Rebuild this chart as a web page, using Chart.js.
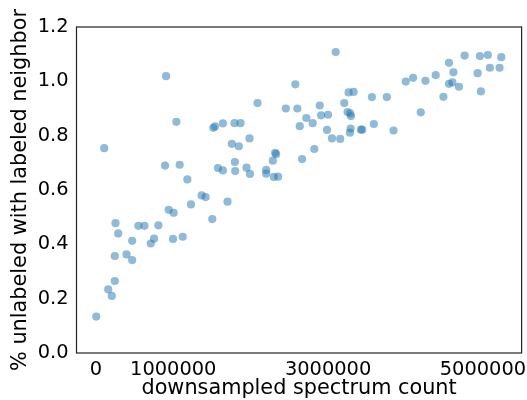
<!DOCTYPE html>
<html>
<head>
<meta charset="utf-8">
<script src="https://cdn.jsdelivr.net/npm/chart.js@4/dist/chart.umd.min.js"></script>
<style>
  html, body { margin: 0; padding: 0; background: #fff; }
  #wrap { width: 527px; height: 400px; }
</style>
</head>
<body>
<div id="wrap"><canvas id="c" width="527" height="400"></canvas></div>
<script>
// Spectrum counts (x) and fraction of unlabeled with labeled neighbor (y)
const spectrumCount = [
  907000, 108000, 1040000, 894000, 1083000, 1182000, 1366000, 1418000, 1229000, 941000,
  1005000, 1701000, 1504000, 254000, 289000, 550000, 628000, 808000, 469000, 752000,
  709000, 997000, 1122000, 245000, 396000, 469000, 245000, 160000, 206000, 5000,
  1517000, 1539000, 1641000, 1791000, 1869000, 1757000, 1847000, 1985000, 2088000, 1577000,
  1641000, 1796000, 1800000, 1946000, 1990000, 2200000, 2200000, 2316000, 2329000, 2286000,
  2299000, 2354000, 2577000, 2454000, 2603000, 2719000, 2634000, 2664000, 3098000, 2801000,
  2892000, 2909000, 2999000, 2822000, 2986000, 3050000, 3157000, 3209000, 3265000, 3330000,
  3252000, 3286000, 3295000, 3291000, 3282000, 3424000, 3441000, 3566000, 3591000, 3759000,
  3845000, 4004000, 4098000, 4197000, 4258000, 4390000, 4490000, 4562000, 4619000, 4562000,
  4606000, 4691000, 4764000, 4932000, 4974000, 4961000, 5064000, 5090000, 5215000, 5237000
];
const pctUnlabeled = [
  1.019, 0.754, 0.851, 0.690, 0.693, 0.639, 0.580, 0.574, 0.547, 0.527,
  0.516, 0.557, 0.493, 0.478, 0.440, 0.468, 0.468, 0.470, 0.413, 0.421,
  0.403, 0.420, 0.428, 0.357, 0.363, 0.342, 0.265, 0.234, 0.210, 0.134,
  0.829, 0.834, 0.845, 0.846, 0.846, 0.770, 0.761, 0.790, 0.920, 0.681,
  0.672, 0.703, 0.670, 0.682, 0.659, 0.674, 0.660, 0.737, 0.732, 0.708,
  0.648, 0.649, 0.989, 0.900, 0.900, 0.865, 0.835, 0.714, 1.108, 0.846,
  0.911, 0.875, 0.877, 0.751, 0.821, 0.790, 0.788, 0.920, 0.959, 0.961,
  0.887, 0.882, 0.872, 0.826, 0.811, 0.822, 0.822, 0.942, 0.843, 0.942,
  0.819, 0.999, 1.013, 0.886, 1.002, 1.023, 0.943, 1.068, 1.033, 0.991,
  0.996, 0.980, 1.095, 1.030, 0.963, 1.093, 1.097, 1.050, 1.050, 1.089
];
const xTickValues = [0, 1000000, 3000000, 5000000];
const yTickValues = [0.0, 0.2, 0.4, 0.6, 0.8, 1.0, 1.2];

const points = spectrumCount.map((x, i) => ({ x: x, y: pctUnlabeled[i] }));

const frame = {
  id: 'frame',
  afterDatasetsDraw(chart) {
    const { ctx, chartArea: a } = chart;
    ctx.save();
    ctx.strokeStyle = '#222';
    ctx.lineWidth = 1.2;
    ctx.strokeRect(a.left, a.top, a.right - a.left, a.bottom - a.top);
    ctx.restore();
  }
};

const tickFont = { family: 'DejaVu Sans', size: 19.4 };
const titleFont = { family: 'DejaVu Sans', size: 20.8 };

new Chart(document.getElementById('c'), {
  type: 'scatter',
  data: {
    datasets: [{
      data: points,
      backgroundColor: 'rgba(31,119,180,0.5)',
      borderWidth: 0,
      pointRadius: 4.1,
      pointHoverRadius: 4.1
    }]
  },
  options: {
    responsive: false,
    animation: false,
    devicePixelRatio: 1,
    layout: { padding: { top: 27, right: 4.7, left: 0, bottom: 0 } },
    plugins: { legend: { display: false }, tooltip: { enabled: false } },
    scales: {
      x: {
        type: 'linear',
        min: -250000,
        max: 5500000,
        afterBuildTicks: (s) => { s.ticks = xTickValues.map(v => ({ value: v })); },
        afterFit: (s) => { s.height = 47; },
        grid: { display: false, drawTicks: true, tickLength: 5, tickColor: '#222', tickWidth: 1.2 },
        border: { display: false },
        ticks: { color: '#000', font: tickFont, padding: 0.5, maxRotation: 0, autoSkip: false,
                 callback: (v) => String(v) },
        title: { display: true, text: 'downsampled spectrum count', color: '#000', font: titleFont,
                 padding: { top: 0, bottom: -1 } }
      },
      y: {
        type: 'linear',
        min: 0,
        max: 1.2,
        afterBuildTicks: (s) => { s.ticks = yTickValues.map(v => ({ value: v })); },
        afterFit: (s) => { s.width = 76.5; },
        grid: { display: false, drawTicks: true, tickLength: 5, tickColor: '#222', tickWidth: 1.2 },
        border: { display: false },
        ticks: { color: '#000', font: tickFont, padding: 3, callback: (v) => v.toFixed(1) },
        title: { display: true, text: '% unlabeled with labeled neighbor', color: '#000', font: titleFont,
                 padding: { top: 8.6, bottom: 0 } }
      }
    }
  },
  plugins: [frame]
});
</script>
</body>
</html>
